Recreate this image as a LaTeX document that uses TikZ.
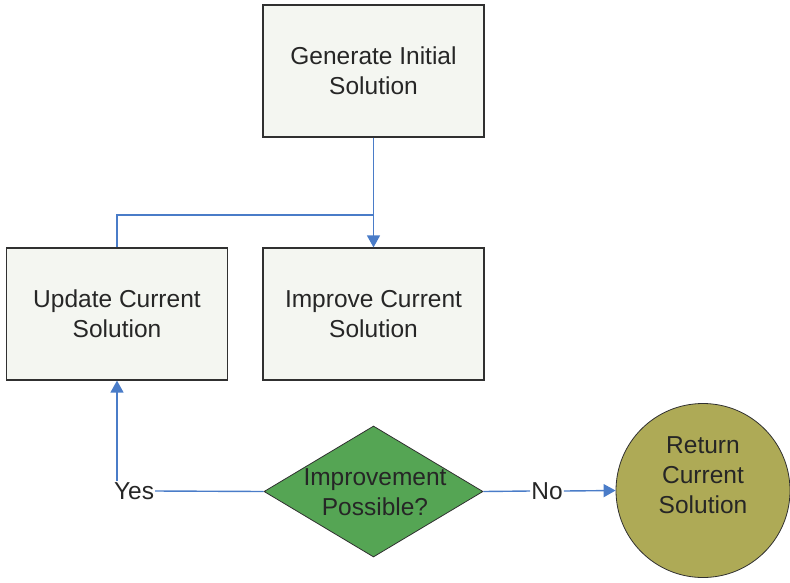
\documentclass[tikz,border=0pt]{standalone}
\usepackage{fontspec}
\setmainfont{Liberation Sans}
\usetikzlibrary{shapes.geometric,arrows.meta}
\definecolor{boxfill}{HTML}{F4F6F1}
\definecolor{boxline}{HTML}{303030}
\definecolor{flow}{HTML}{4A7CC8}
\definecolor{decfill}{HTML}{55A554}
\definecolor{endfill}{HTML}{AEAA56}
\begin{document}
\begin{tikzpicture}[x=1pt,y=-1pt,
  every node/.style={font=\fontsize{24.5}{30}\selectfont, text=black!85, align=center},
  stepbox/.style={draw=boxline, line width=1.2pt, fill=boxfill, minimum width=221pt, minimum height=132pt, inner sep=0pt},
  decision/.style={diamond, draw=boxline, line width=0.8pt, fill=decfill, minimum width=219pt, minimum height=131pt, inner sep=0pt, aspect=1.67},
  terminal/.style={circle, draw=boxline, line width=0.8pt, fill=endfill, minimum size=174pt, inner sep=0pt},
  flowline/.style={draw=flow, line width=1.4pt},
  flowarrow/.style={flowline, -{Triangle[length=12pt,width=13pt]}}]
\useasboundingbox (0,0) rectangle (790,582);
\node[stepbox] (gen) at (373.5,71) {Generate Initial\\Solution};
\node[stepbox] (upd) at (117,314) {Update Current\\Solution};
\node[stepbox] (imp) at (373.5,314) {Improve Current\\Solution};
\node[decision] (dec) at (373.5,491.5) {};
\node (dectext) at (375,492) {Improvement\\Possible?};
\node[terminal] (ret) at (703,490.5) {};
\node (rettext) at ([yshift=15pt]ret.center) {Return\\Current\\Solution};
\coordinate (join) at (373.5,215);
\draw[flowarrow] (gen.south) -- (imp.north);
\draw[flowline] (upd.north) |- (join);
\node[inner sep=1pt] (yes) at (134,491) {Yes};
\node[inner sep=1pt] (no) at (547,491) {No};
\draw[flowline] (dec.west) -- (yes.east);
\draw[flowarrow] (yes.north -| upd.south) -- (upd.south);
\draw[flowline] (dec.east) -- (no.west);
\draw[flowarrow] (no.east) -- (ret.west);
\end{tikzpicture}
\end{document}
